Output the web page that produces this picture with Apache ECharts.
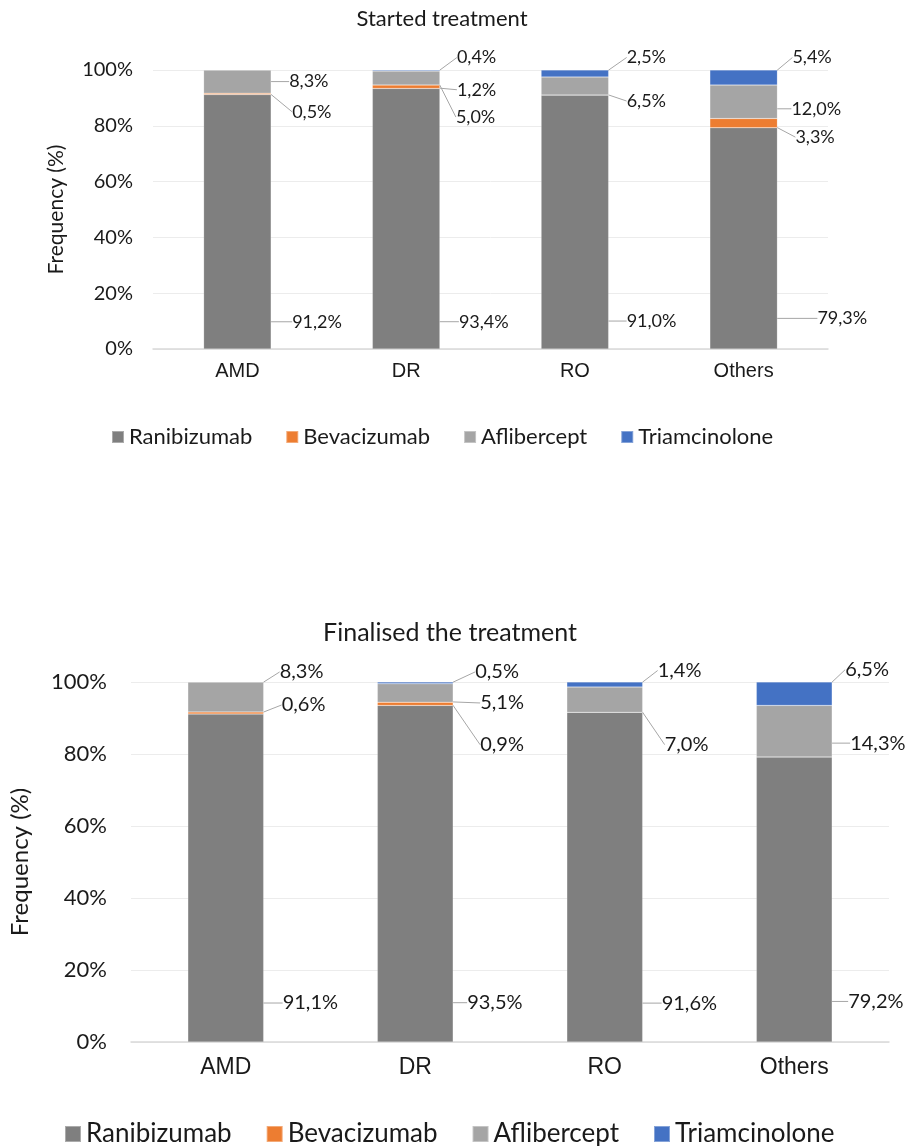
<!DOCTYPE html>
<html>
<head>
<meta charset="utf-8">
<script src="https://cdn.jsdelivr.net/npm/echarts@6/dist/echarts.min.js"></script>
<style>html,body{margin:0;padding:0;background:#fff}#c{width:907px;height:1146px}</style>
</head>
<body>
<div id="c"></div>
<script>
var categories = ['AMD', 'DR', 'RO', 'Others'];
var seriesNames = ['Ranibizumab', 'Bevacizumab', 'Aflibercept', 'Triamcinolone'];
var yTicks = ['0%', '20%', '40%', '60%', '80%', '100%'];
var titles = ['Started treatment', 'Finalised the treatment'];

// Started treatment (%)
var startRanibizumab = [91.2, 93.4, 91.0, 79.3];
var startBevacizumab = [0.5, 1.2, 0, 3.3];
var startAflibercept = [8.3, 5.0, 6.5, 12.0];
var startTriamcinolone = [0, 0.4, 2.5, 5.4];

// Finalised the treatment (%)
var finRanibizumab = [91.1, 93.5, 91.6, 79.2];
var finBevacizumab = [0.6, 0.9, 0, 0];
var finAflibercept = [8.3, 5.1, 7.0, 14.3];
var finTriamcinolone = [0, 0.5, 1.4, 6.5];

var colors = ['#7f7f7f', '#ed7d31', '#a5a5a5', '#4472c4'];

// label offsets [dx from bar right edge, dy from segment centre] per chart / series / category
var labelOffsets = [
  [ [[21,100],[19,103],[18,99],[40,80]],
    [[21,18],[17,3],[0,0],[18,14]],
    [[18,0],[16,39],[18,15],[14,7]],
    [[0,0],[17,-13],[18,-16],[15,-20]] ],
  [ [[19,125],[14,129],[19,126],[16,102]],
    [[18,-8],[27,41],[0,0],[0,0]],
    [[16,-25],[27,10],[22,45],[18,12]],
    [[0,0],[22,-11],[15,-14],[13,-24]] ]
];

var chartData = [
  [startRanibizumab, startBevacizumab, startAflibercept, startTriamcinolone],
  [finRanibizumab, finBevacizumab, finAflibercept, finTriamcinolone]
];

var fontNum = 'Lato, "Open Sans", sans-serif';
var txt = '#1a1a1a';
var labelSizes = [18, 20];

var series = [];
for (var g = 0; g < 2; g++) {
  for (var s = 0; s < 4; s++) {
    (function (g, s) {
      series.push({
        name: seriesNames[s],
        type: 'bar',
        stack: 'st' + g,
        xAxisIndex: g,
        yAxisIndex: g,
        barCategoryGap: '60%',
        itemStyle: { color: colors[s], borderColor: 'rgba(255,255,255,0.35)', borderWidth: 0.5 },
        data: chartData[g][s].map(function (v) {
          return v === 0 ? { value: 0, label: { show: false }, labelLine: { show: false } } : v;
        }),
        label: {
          show: true,
          position: 'right',
          color: txt,
          fontFamily: fontNum,
          fontSize: labelSizes[g],
          formatter: function (p) { return p.value.toFixed(1).replace('.', ',') + '%'; }
        },
        labelLine: { show: true, lineStyle: { color: '#a6a6a6', width: 1 } },
        labelLayout: function (p) {
          var off = labelOffsets[g][s][p.dataIndex];
          var r = p.rect;
          return {
            x: r.x + r.width + off[0],
            y: r.y + r.height / 2 + off[1],
            align: 'left',
            verticalAlign: 'middle'
          };
        }
      });
    })(g, s);
  }
}

function yAxis(gi, fs, nameGap, nameFs, margin) {
  return {
    type: 'value', gridIndex: gi, min: 0, max: 100, interval: 20,
    name: 'Frequency (%)', nameLocation: 'middle', nameGap: nameGap,
    nameTextStyle: { fontFamily: fontNum, fontSize: nameFs, color: txt },
    axisLabel: { formatter: function (v) { return yTicks[v / 20]; }, fontFamily: fontNum, fontSize: fs, color: txt, margin: margin },
    splitLine: { lineStyle: { color: '#ececec' } },
    axisLine: { show: false }, axisTick: { show: false }
  };
}
function xAxis(gi, fs, margin) {
  return {
    type: 'category', gridIndex: gi, data: categories,
    axisLine: { lineStyle: { color: '#d9d9d9', width: 1.5 } },
    axisTick: { show: false },
    axisLabel: { fontFamily: '"Liberation Sans", Arial, sans-serif', fontSize: fs, color: txt, margin: margin }
  };
}

var option = {
  animation: false,
  color: colors,
  title: [
    { text: titles[0], left: 437, top: 3, textAlign: 'center', textStyle: { fontFamily: fontNum, fontSize: 22, fontWeight: 'normal', color: txt } },
    { text: titles[1], left: 445, top: 615, textAlign: 'center', textStyle: { fontFamily: fontNum, fontSize: 25, fontWeight: 'normal', color: txt } }
  ],
  legend: [
    { data: seriesNames, left: 106, top: 421, icon: 'rect', itemWidth: 12, itemHeight: 12, itemGap: 33,
      textStyle: { fontFamily: fontNum, fontSize: 22, color: txt } },
    { data: seriesNames, left: 59, top: 1116, icon: 'rect', itemWidth: 16, itemHeight: 16, itemGap: 34,
      textStyle: { fontFamily: fontNum, fontSize: 26, color: txt } }
  ],
  grid: [
    { left: 153, right: 79, top: 70, height: 279, outerBoundsMode: 'none', containLabel: false },
    { left: 131, right: 18, top: 682, height: 360, outerBoundsMode: 'none', containLabel: false }
  ],
  xAxis: [xAxis(0, 20, 12), xAxis(1, 23, 14)],
  yAxis: [yAxis(0, 20, 86, 21, 20), yAxis(1, 22, 99, 24, 24)],
  series: series
};

var chart = echarts.init(document.getElementById('c'));
chart.setOption(option);
</script>
</body>
</html>
